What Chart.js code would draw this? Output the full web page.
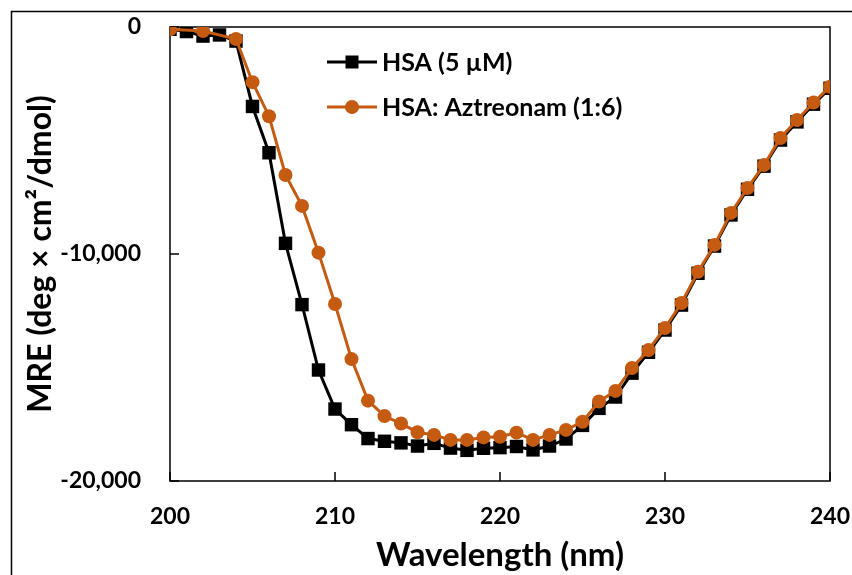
<!DOCTYPE html>
<html>
<head>
<meta charset="utf-8">
<script src="https://cdn.jsdelivr.net/npm/chart.js@4.4.1/dist/chart.umd.min.js"></script>
<style>
    html, body { margin: 0; padding: 0; background: #fff; }
    canvas { display: block; }
</style>
</head>
<body>
<canvas id="cdChart" width="852" height="575"></canvas>
<script>
// 波长 (nm)
const wavelengths = [200, 201, 202, 203, 204, 205, 206, 207, 208, 209,
    210, 211, 212, 213, 214, 215, 216, 217, 218, 219,
    220, 221, 222, 223, 224, 225, 226, 227, 228, 229,
    230, 231, 232, 233, 234, 235, 236, 237, 238, 239, 240];

// HSA (5 µM)
const hsaValues = [-100, -200, -400, -350, -620, -3500, -5540, -9530, -12230, -15110,
    -16830, -17520, -18130, -18250, -18320, -18460, -18340, -18550, -18650, -18560,
    -18530, -18480, -18630, -18460, -18150, -17550, -16800, -16300, -15250, -14330,
    -13350, -12250, -10850, -9650, -8280, -7150, -6130, -4980, -4180, -3400, -2700];

// HSA: Aztreonam (1:6)
const aztValues = [-100, null, -180, null, -530, -2430, -3930, -6520, -7880, -9940,
    -12200, -14630, -16460, -17140, -17470, -17850, -17970, -18190, -18190, -18080,
    -18050, -17870, -18190, -17970, -17750, -17390, -16500, -16030, -15020, -14230,
    -13260, -12160, -10780, -9600, -8190, -7090, -6080, -4890, -4100, -3330, -2630];

const xTicks = [200, 210, 220, 230, 240];
const yTicks = [-20000, -10000, 0];

const seriesLabels = ['HSA (5 µM)', 'HSA: Aztreonam (1:6)'];
const ORANGE = '#C55A11';
const FONT = 'Lato, "Open Sans", sans-serif';

// 绘图区边框 + 向内刻度
const framePlugin = {
    id: 'frame',
    beforeDatasetsDraw(chart) {
        const { ctx, chartArea: a, scales } = chart;
        ctx.save();
        ctx.strokeStyle = '#000';
        ctx.lineWidth = 1.5;
        ctx.strokeRect(a.left, a.top, a.right - a.left, a.bottom - a.top);
        ctx.beginPath();
        xTicks.forEach(v => {
            const px = scales.x.getPixelForValue(v);
            ctx.moveTo(px, a.bottom);
            ctx.lineTo(px, a.bottom - 9);
        });
        yTicks.forEach(v => {
            const py = scales.y.getPixelForValue(v);
            ctx.moveTo(a.left, py);
            ctx.lineTo(a.left + 9, py);
        });
        ctx.stroke();
        // 外框 (左/上)
        ctx.beginPath();
        ctx.moveTo(11.5, chart.height);
        ctx.lineTo(11.5, 11.5);
        ctx.lineTo(chart.width, 11.5);
        ctx.stroke();
        ctx.restore();
    }
};

// 图内图例
const legendPlugin = {
    id: 'innerLegend',
    afterDraw(chart) {
        const { ctx } = chart;
        const rows = [62, 107];
        ctx.save();
        chart.data.datasets.forEach((ds, i) => {
            const y = rows[i];
            ctx.strokeStyle = ds.borderColor;
            ctx.lineWidth = 3;
            ctx.beginPath();
            ctx.moveTo(327, y);
            ctx.lineTo(377, y);
            ctx.stroke();
            ctx.fillStyle = ds.borderColor;
            if (ds.pointStyle === 'rect') {
                ctx.fillRect(352 - 6.5, y - 6.5, 13, 13);
            } else {
                ctx.beginPath();
                ctx.arc(352, y, 7, 0, Math.PI * 2);
                ctx.fill();
            }
            ctx.fillStyle = '#000';
            ctx.font = 'bold 25px ' + FONT;
            ctx.textBaseline = 'middle';
            ctx.fillText(ds.label, 382, y + 1);
        });
        ctx.restore();
    }
};

const ctx = document.getElementById('cdChart').getContext('2d');
new Chart(ctx, {
    type: 'line',
    data: {
        datasets: [{
            label: seriesLabels[0],
            data: wavelengths.map((x, i) => ({ x, y: hsaValues[i] })),
            borderColor: '#000',
            backgroundColor: '#000',
            pointBorderColor: '#000',
            pointBackgroundColor: '#000',
            borderWidth: 3,
            pointStyle: 'rect',
            pointRadius: 9.5,
            pointBorderWidth: 0,
            tension: 0,
            order: 2
        }, {
            label: seriesLabels[1],
            data: wavelengths.map((x, i) => ({ x, y: aztValues[i] })),
            borderColor: ORANGE,
            backgroundColor: ORANGE,
            pointBorderColor: ORANGE,
            pointBackgroundColor: ORANGE,
            borderWidth: 3,
            pointStyle: 'circle',
            pointRadius: 7,
            pointBorderWidth: 0,
            tension: 0,
            spanGaps: true,
            order: 1
        }]
    },
    options: {
        responsive: false,
        animation: false,
        layout: { padding: { top: 27, right: 22, left: 0, bottom: 0 } },
        plugins: {
            legend: { display: false },
            tooltip: { enabled: false }
        },
        scales: {
            x: {
                type: 'linear',
                min: 200,
                max: 240,
                afterFit: s => {
                    s.height = 94;
                    s.paddingLeft = 0;
                    s.paddingRight = 0;
                },
                afterBuildTicks: s => { s.ticks = xTicks.map(v => ({ value: v })); },
                grid: { display: false, drawTicks: false },
                border: { display: false },
                ticks: {
                    color: '#000',
                    padding: 22,
                    font: { family: FONT, size: 23, weight: 'bold' }
                },
                title: {
                    display: true,
                    text: 'Wavelength (nm)',
                    color: '#000',
                    padding: { top: 0, bottom: 0 },
                    font: { family: FONT, size: 33, weight: 'bold' }
                }
            },
            y: {
                min: -20000,
                max: 0,
                afterFit: s => {
                    s.width = 170;
                    s.paddingTop = 0;
                    s.paddingBottom = 0;
                },
                afterBuildTicks: s => { s.ticks = yTicks.map(v => ({ value: v })); },
                grid: { display: false, drawTicks: false },
                border: { display: false },
                ticks: {
                    color: '#000',
                    padding: 29,
                    font: { family: FONT, size: 23, weight: 'bold' },
                    callback: v => v.toLocaleString('en-US')
                },
                title: {
                    display: true,
                    text: 'MRE (deg × cm²/dmol)',
                    color: '#000',
                    padding: { top: 21, bottom: 0 },
                    font: { family: FONT, size: 32, weight: 'bold' }
                }
            }
        }
    },
    plugins: [framePlugin, legendPlugin]
});
</script>
</body>
</html>
